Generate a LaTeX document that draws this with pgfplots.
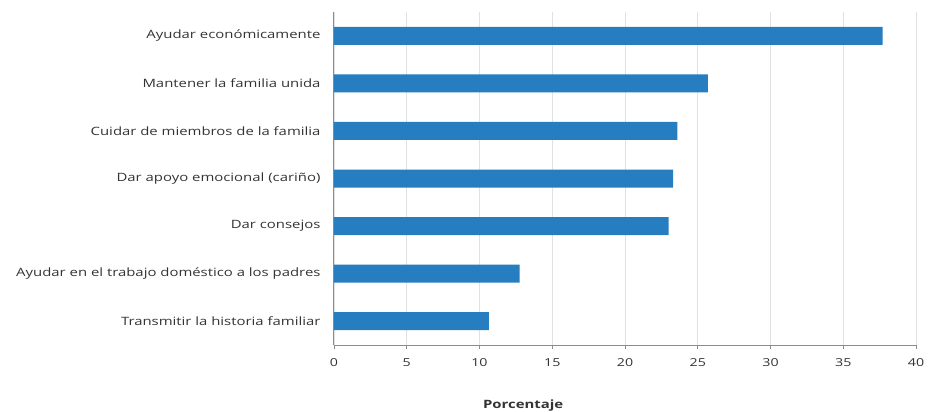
\documentclass[border=0pt]{standalone}
\usepackage{pgfplots}
\pgfplotsset{compat=1.18}
\usepackage{fontspec}
\setmainfont{Open Sans}[FakeStretch=1.3]
\definecolor{barblue}{RGB}{38,125,192}
\definecolor{axgray}{RGB}{140,140,140}
\definecolor{gridgray}{RGB}{225,225,225}
\begin{document}
\begin{tikzpicture}
\begin{axis}[
  at={(0,0)}, anchor=south west,
  scale only axis,
  width=582bp, height=333bp,
  xmin=0, xmax=40,
  ymin=-0.5, ymax=6.5,
  xtick={0,5,...,40},
  ytick={0,...,6},
  yticklabels={Transmitir la historia familiar,Ayudar en el trabajo doméstico a los padres,Dar consejos,Dar apoyo emocional (cariño),Cuidar de miembros de la familia,Mantener la familia unida,Ayudar económicamente},
  extra y ticks={-0.5,0.5,...,6.5},
  extra y tick labels={},
  extra y tick style={grid=none, major tick length=3bp, tick style={axgray, line width=0.8pt}, yticklabel style={opacity=0}},
  xmajorgrids, major grid style={gridgray, line width=0.8pt},
  axis x line*=bottom, axis y line*=left,
  axis line style={axgray, line width=1pt, -},
  x axis line style={-}, y axis line style={-},
  xtick style={axgray, line width=0.8pt},
  major tick length=4bp,
  ytick style={draw=none},
  tick align=outside,
  /pgf/number format/assume math mode=true,
  ticklabel style={font=\fontsize{11}{13}\selectfont, text=black!80},
  yticklabel style={xshift=-6bp, font=\fontsize{11.5}{13}\selectfont},
  xticklabel style={yshift=-6bp},
  xlabel={\textbf{Porcentaje}},
  xlabel style={at={(rel axis cs:0.325,0)}, anchor=center, yshift=-61bp, font=\fontsize{11.5}{13}\selectfont, text=black!80},
  xbar, bar width=18bp,
  clip=false,
]
\addplot[fill=barblue, draw=none] coordinates {
 (10.65,0) (12.75,1) (23.0,2) (23.3,3) (23.6,4) (25.7,5) (37.7,6)
};
\end{axis}
\pgfresetboundingbox
\path (-334bp,-67bp) rectangle (594bp,345bp);
\end{tikzpicture}
\end{document}
